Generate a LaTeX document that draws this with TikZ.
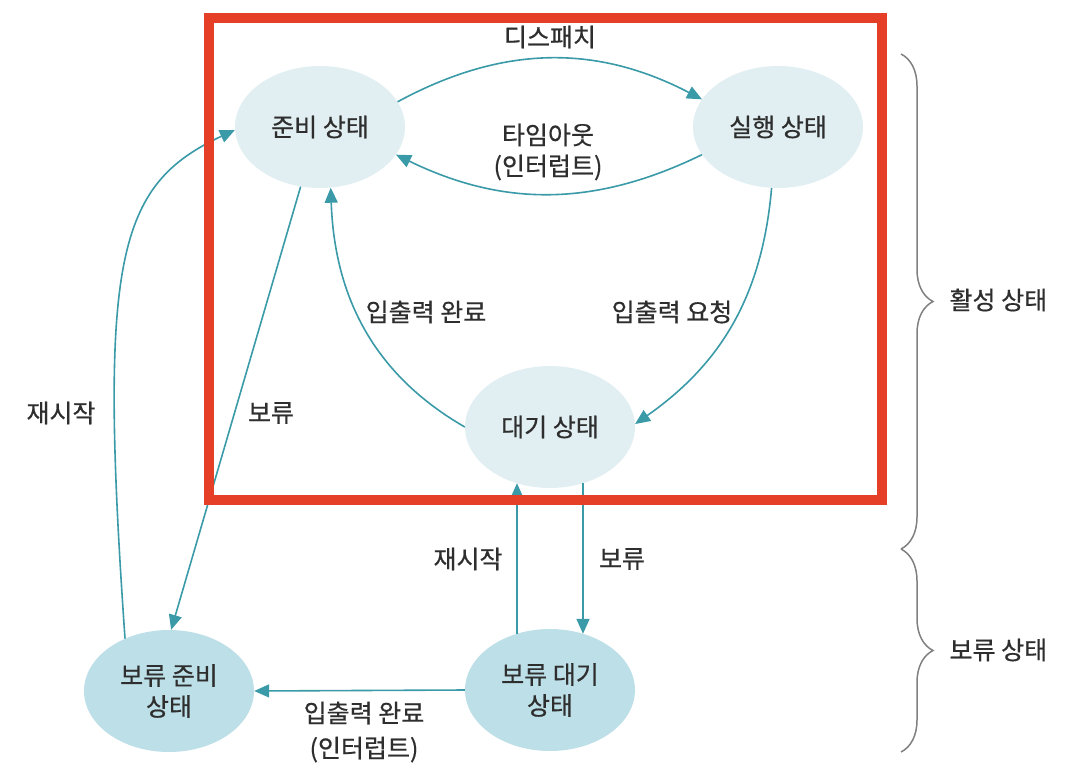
\documentclass[tikz,border=0pt]{standalone}
\usepackage{fontspec}
\setmainfont{Noto Sans CJK KR}[FakeBold=0.6]
\usetikzlibrary{arrows.meta,positioning,shapes.geometric,decorations.pathreplacing}
\definecolor{flowteal}{HTML}{3A9AA8}
\definecolor{frameRed}{HTML}{E63F28}
\definecolor{paleBlue}{HTML}{E1EEF2}
\definecolor{holdBlue}{HTML}{BDDFE8}
\definecolor{textGray}{HTML}{2E2E2E}
\newcommand{\lblsize}{\fontsize{25}{31}\selectfont}

\begin{document}
\begin{tikzpicture}[
    x=1pt, y=1pt,
    state/.style={ellipse, fill=paleBlue, minimum width=170pt, minimum height=122pt, inner sep=0pt, align=center, font=\lblsize, text=textGray},
    holdstate/.style={state, fill=holdBlue},
    flow/.style={-{Triangle[length=15pt,width=13pt]}, draw=flowteal, line width=1.6pt},
    lbl/.style={font=\lblsize, text=textGray, align=center},
    bracegroup/.style={decorate, decoration={brace, amplitude=32pt}, draw=gray, line width=1.5pt}
]
\useasboundingbox (0,0) rectangle (1066,-772);

% 상태
\node[state] (ready) at (320,-127) {준비 상태};
\node[state] (run) at (778,-127) {실행 상태};
\node[state] (wait) at (550,-427) {대기 상태};
\node[holdstate] (holdready) at (169,-691) {보류 준비\\상태};
\node[holdstate] (holdwait) at (550,-690) {보류 대기\\상태};

% 활성 상태 안의 전이
\draw[flow] (ready.18) to[bend left=28] (run.160);
\draw[flow] (run.200) to[bend left=26] (ready.340);
\draw[flow] (run.264) to[out=-95, in=35] (wait.2);
\draw[flow] (wait.180) to[out=150, in=-88] (ready.280);

% 보류 / 재시작
\draw[flow] (ready.252) -- (holdready.88);
\draw[flow] (holdready.130) to[out=94, in=205, out looseness=1.88, in looseness=0.64] (ready.182);
\draw[flow] ([xshift=-33pt,yshift=-5pt]holdwait.north) -- ([xshift=-33pt,yshift=5pt]wait.south);
\draw[flow] ([xshift=33pt,yshift=5pt]wait.south) -- ([xshift=33pt,yshift=-5pt]holdwait.north);
\draw[flow] (holdwait.west) -- (holdready.east);

% 전이 이름
\node[lbl] (dispatchlbl) at (550,-37) {디스패치};
\node[lbl] (timeoutlbl) at (548,-152) {타임아웃\\(인터럽트)};
\node[lbl] (iodonelbl) at (426,-312) {입출력 완료};
\node[lbl] (ioreqlbl) at (672,-312) {입출력 요청};
\node[lbl] (suspendlbl) at (271,-413) {보류};
\node[lbl] (resumelbl) at (61,-413) {재시작};
\node[lbl] (resumewaitlbl) at (468,-559) {재시작};
\node[lbl] (suspendwaitlbl) at (622,-559) {보류};
\node[lbl] (holddonelbl) at (364,-732) {입출력 완료\\[4pt](인터럽트)};

% 강조 테두리
\draw[frameRed, line width=9.5pt] (209,-18) rectangle (882,-500);

% 오른쪽 묶음
\draw[bracegroup] (901,-54) -- (901,-549);
\draw[bracegroup] (901,-549) -- (901,-752);
\node[lbl, anchor=west] (activelbl) at (946,-300) {활성 상태};
\node[lbl, anchor=west] (holdlbl) at (946,-650) {보류 상태};

\end{tikzpicture}
\end{document}
